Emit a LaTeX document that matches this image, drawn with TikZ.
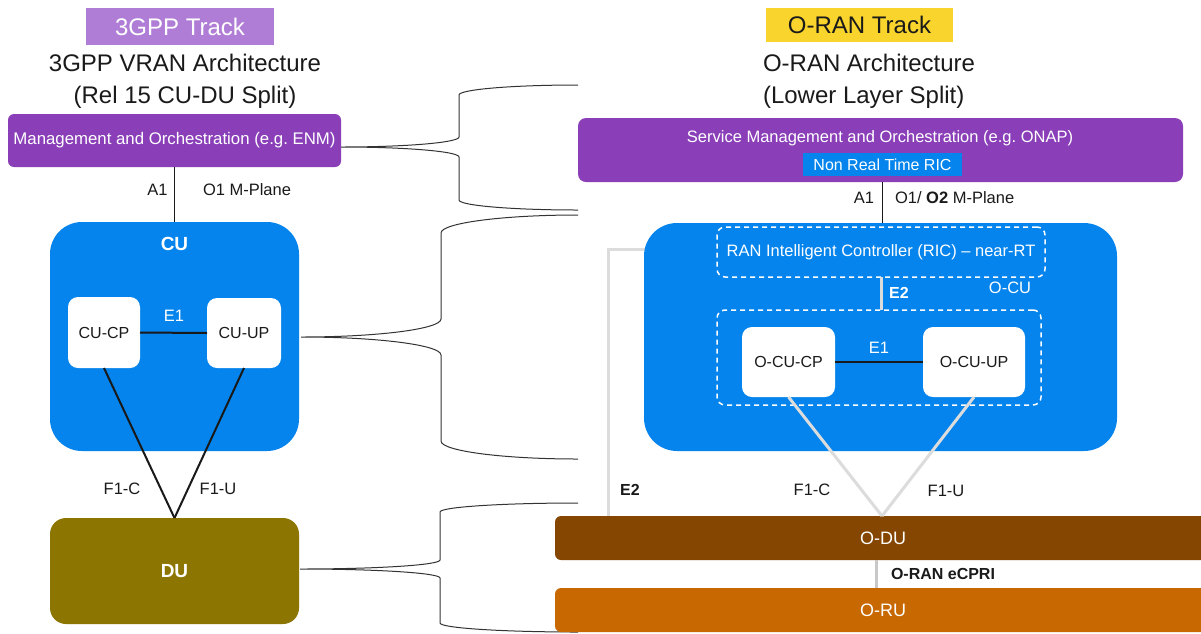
\documentclass[tikz,border=0pt]{standalone}
\usepackage{fontspec}
\setmainfont{Liberation Sans}
\usetikzlibrary{calc}

\definecolor{mgmtpurple}{HTML}{8A3FB8}
\definecolor{trackpurple}{HTML}{B07DD6}
\definecolor{trackyellow}{HTML}{F9D42C}
\definecolor{cublue}{HTML}{0484EC}
\definecolor{duolive}{HTML}{8D7502}
\definecolor{odubrown}{HTML}{844600}
\definecolor{oruorange}{HTML}{C86800}
\definecolor{linkgray}{HTML}{DCDCDC}
\definecolor{cprigray}{HTML}{C8C8C8}
\definecolor{inktext}{HTML}{1A1A1A}

\pgfdeclarelayer{paper}
\pgfdeclarelayer{back}
\pgfsetlayers{paper,back,main}

\newcommand\fsz[2]{\fontsize{#1}{#2}\selectfont}

% Curly brace opening to the right:
% #1,#2 tip; #3 spine x; #4 top end y; #5 bottom end y; #6 end x; #7 bend radius
\newcommand\archbrace[7]{%
  \draw[bracestyle]
    (#6,#4) .. controls ({#6-0.552*(#6-#3)},#4) and (#3,{#4+0.448*#7}) .. (#3,{#4+#7})
    -- (#3,{#2-#7}) .. controls (#3,{#2-0.448*#7}) and ({#1+0.552*(#3-#1)},#2) .. (#1,#2)
    .. controls ({#1+0.552*(#3-#1)},#2) and (#3,{#2+0.448*#7}) .. (#3,{#2+#7})
    -- (#3,{#5-#7}) .. controls (#3,{#5-0.448*#7}) and ({#6-0.552*(#6-#3)},#5) .. (#6,#5);
}

\begin{document}
\begin{tikzpicture}[x=1pt,y=-1pt,
  every node/.style={inner sep=0pt,outer sep=0pt,text=inktext},
  block/.style={rectangle,rounded corners=#1},
  track/.style={rectangle,font=\fsz{24}{28}},
  title/.style={font=\fsz{24}{32}},
  lbl/.style={font=\fsz{16.5}{20}},
  wlbl/.style={lbl,text=white},
  blbl/.style={font=\bfseries\fsz{16}{20}},
  subbox/.style={rectangle,fill=white,rounded corners=10pt,font=\fsz{16}{18}},
  dashbox/.style={rectangle,draw=white,dash pattern=on 5pt off 4pt,line width=1.5pt,rounded corners=8pt},
  blackline/.style={line width=2pt,draw=black!90},
  grayline/.style={line width=3pt,draw=linkgray},
  bracestyle/.style={line width=1pt,draw=black!80},
]
\path[use as bounding box] (0,0) rectangle (1201,633);
\begin{pgfonlayer}{paper}
  \fill[white] (0,0) rectangle (1201,633);
\end{pgfonlayer}
\clip (0,0) rectangle (1201,633);

% ---------------- 3GPP side ----------------
\node[track,fill=trackpurple,text=white,minimum width=188pt,minimum height=37pt] (trk3) at (180,26.5) {3GPP Track};
\node[title,align=center] (title3) at (185,81) {3GPP VRAN Architecture\\(Rel 15 CU-DU Split)};

\node[block=6pt,fill=mgmtpurple,minimum width=333pt,minimum height=53pt,text=white,font=\fsz{16.8}{20}] (mgmt) at (174.5,140.5) {Management and Orchestration (e.g.\ ENM)};

\node[block=32pt,fill=cublue,minimum width=249pt,minimum height=229pt] (cu) at (174.5,336.5) {};
\node[text=white,font=\bfseries\fsz{19}{22}] (culbl) at (174.5,244) {CU};
\node[subbox,minimum width=72pt,minimum height=71pt] (cucp) at (104,332.5) {CU-CP};
\node[subbox,minimum width=74pt,minimum height=70pt] (cuup) at (244,333) {CU-UP};

\node[block=16pt,fill=duolive,minimum width=249pt,minimum height=106pt,text=white,font=\bfseries\fsz{19}{22}] (du) at (174.5,571) {DU};

\draw[line width=1.6pt,black!90] (mgmt.south) -- (cu.north);
\node[lbl] (a1l) at (157.5,190) {A1};
\node[lbl,anchor=west] (o1l) at (203,190) {O1 M-Plane};

\draw[blackline] (cucp.east) -- (cuup.west);
\node[wlbl] (e1l) at (174,316) {E1};

\draw[blackline] (cucp.south) -- (du.north);
\draw[blackline] (cuup.south) -- (du.north);
\node[lbl] (f1cl) at (122,489) {F1-C};
\node[lbl] (f1ul) at (218,489) {F1-U};

% ---------------- braces ----------------
\archbrace{341}{147}{459}{85}{210}{578}{10}
\archbrace{301}{337}{441}{215}{459}{578}{18}
\archbrace{300}{569}{440}{503}{632}{578}{9}

% ---------------- O-RAN side ----------------
\node[track,fill=trackyellow,minimum width=187pt,minimum height=34pt] (trko) at (859.5,25) {O-RAN Track};
\node[title,align=left,anchor=west] (titleo) at (763,81) {O-RAN Architecture\\(Lower Layer Split)};

\node[block=8pt,fill=mgmtpurple,minimum width=605pt,minimum height=64pt] (smo) at (880.5,150) {};
\node[text=white,font=\fsz{16.5}{20}] (smol) at (880,138) {Service Management and Orchestration (e.g.\ ONAP)};
\node[rectangle,fill=cublue,minimum width=159pt,minimum height=23pt,text=white,font=\fsz{16}{19}] (nrt) at (882.5,164.5) {Non Real Time RIC};

\node[block=33pt,fill=cublue,minimum width=473pt,minimum height=228pt] (ocu) at (880.5,337) {};
\node[dashbox,minimum width=328pt,minimum height=50pt,text=white,font=\fsz{16.5}{20}] (ric) at (881,252) {RAN Intelligent Controller (RIC) – near-RT};
\node[dashbox,minimum width=324pt,minimum height=95pt] (inner) at (879,357.5) {};
\node[subbox,minimum width=93pt,minimum height=70pt] (ocucp) at (788.5,362) {O-CU-CP};
\node[subbox,minimum width=102pt,minimum height=70pt] (ocuup) at (974,362) {O-CU-UP};
\node[wlbl] (ocul) at (1010,288) {O-CU};

\node[block=6pt,fill=odubrown,minimum width=656pt,minimum height=44pt,text=white,font=\fsz{18}{21}] (odu) at (883,538) {O-DU};
\node[block=6pt,fill=oruorange,minimum width=656pt,minimum height=44pt,text=white,font=\fsz{18}{21}] (oru) at (883,610) {O-RU};

% management link
\draw[line width=1.6pt,black!90] (smo.south -| nrt.south) -- (ocu.north -| nrt.south);
\node[lbl] (a1r) at (864,198) {A1};
\node[lbl,anchor=west] (o1r) at (895,198) {O1/ \textbf{O2} M-Plane};

% E2 towards the near-RT RIC
\draw[grayline] (ric.south) -- (ric.south |- inner.north);
\node[text=white,font=\bfseries\fsz{16}{20}] (e2in) at (899,293) {E2};

\coordinate (e2c) at (608,249);
\begin{pgfonlayer}{back}
  \draw[grayline] (e2c -| ocu.center) -- (e2c) -- (e2c |- odu.north);
\end{pgfonlayer}
\node[blbl] (e2out) at (630,490) {E2};

% E1 between CU-CP and CU-UP
\draw[blackline] (ocucp.east) -- (ocuup.west);
\node[wlbl] (e1r) at (879,348) {E1};

% F1 towards O-DU
\coordinate (f1j) at (882,516);
\draw[grayline] (ocucp.south) -- (f1j);
\draw[grayline] (ocuup.south) -- (f1j);
\node[lbl] (f1cr) at (812,490) {F1-C};
\node[lbl] (f1ur) at (946,491) {F1-U};

% fronthaul
\coordinate (fh) at (876,560);
\draw[line width=3pt,cprigray] (fh) -- (fh |- oru.north);
\node[blbl,anchor=west] (cpri) at (891,574) {O-RAN eCPRI};
\end{tikzpicture}
\end{document}
